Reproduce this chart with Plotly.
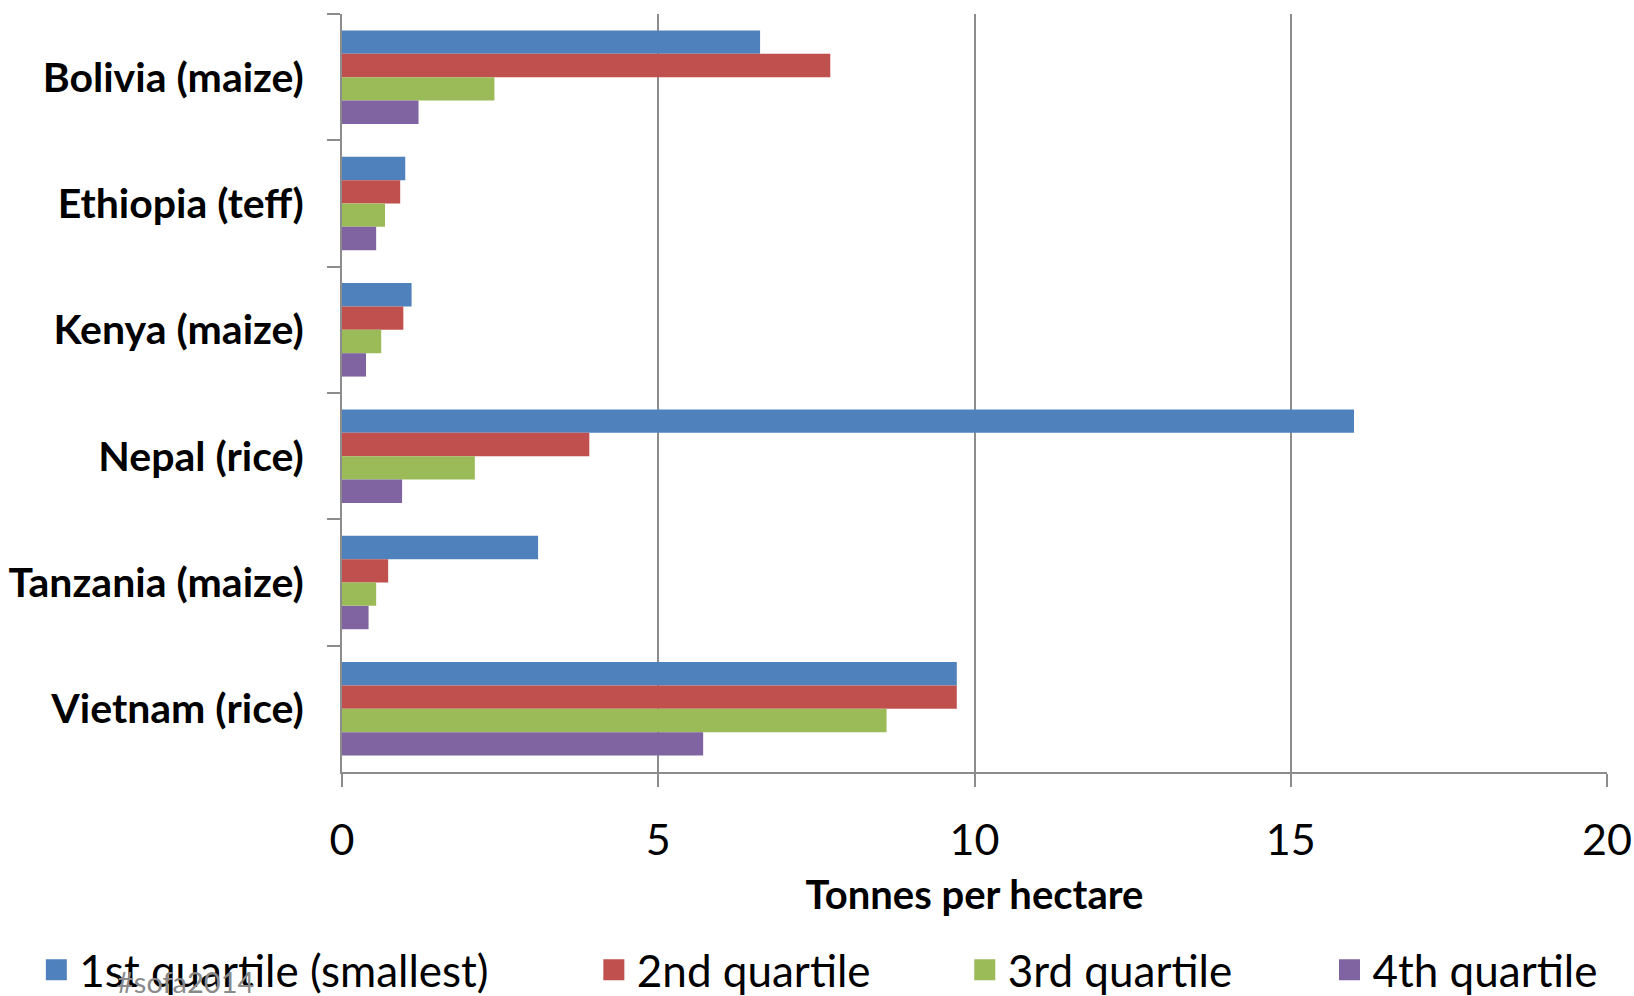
import plotly.graph_objects as go

categories = ["Bolivia (maize)", "Ethiopia (teff)", "Kenya (maize)",
              "Nepal (rice)", "Tanzania (maize)", "Vietnam (rice)"]
series_names = ["1st quartile (smallest)", "2nd quartile", "3rd quartile", "4th quartile"]
q1 = [6.61, 1.00, 1.10, 16.0, 3.10, 9.72]
q2 = [7.72, 0.92, 0.97, 3.91, 0.73, 9.72]
q3 = [2.41, 0.68, 0.62, 2.10, 0.54, 8.61]
q4 = [1.21, 0.54, 0.38, 0.95, 0.42, 5.71]
colors = ["#4F81BD", "#C0504D", "#9BBB59", "#8064A2"]
x_ticks = [0, 5, 10, 15, 20]

FONT = "Lato"
fig = go.Figure()
legend_ids = ["legend", "legend2", "legend3", "legend4"]
for name, vals, col, lg in zip(series_names, [q1, q2, q3, q4], colors, legend_ids):
    fig.add_trace(go.Bar(y=categories, x=vals, orientation="h", name=name,
                         marker=dict(color=col, line=dict(width=0)),
                         showlegend=False))
    fig.add_trace(go.Scatter(x=[None], y=[None], mode="markers", name=name,
                             marker=dict(symbol="square", size=16, color=col,
                                         line=dict(color=col, width=5)),
                             legend=lg, showlegend=True))

legend_x = [0.0204, 0.3616, 0.5886, 0.8118]
leg_common = dict(orientation="h", xref="container", yref="container",
                  yanchor="middle", y=0.026, xanchor="left",
                  font=dict(family=FONT, size=44, color="black"),
                  bgcolor="rgba(0,0,0,0)", itemwidth=36, tracegroupgap=0)
layout_legends = {}
for lg, lx in zip(legend_ids, legend_x):
    layout_legends[lg] = dict(leg_common, x=lx)

fig.update_layout(
    template="none",
    width=1634, height=996,
    margin=dict(l=342, r=27, t=14, b=224, pad=0),
    paper_bgcolor="white", plot_bgcolor="white",
    barmode="group", bargap=0.26, bargroupgap=0,
    font=dict(family=FONT, color="black"),
    xaxis=dict(range=[0, 20], tickvals=x_ticks, ticktext=[str(v) for v in x_ticks],
               automargin=False,
               showgrid=True, gridcolor="#8C8C8C", gridwidth=2,
               showline=True, linecolor="#8C8C8C", linewidth=2,
               ticks="outside", ticklen=13, tickcolor="#8C8C8C", tickwidth=2,
               tickfont=dict(family=FONT, size=43, color="black"),
               ticklabelstandoff=16, zeroline=False,
               title=dict(text="<b>Tonnes per hectare</b>", standoff=18,
                          font=dict(family=FONT, size=40, color="black"))),
    yaxis=dict(autorange="reversed", categoryorder="array", categoryarray=categories,
               automargin=False,
               showline=True, linecolor="#8C8C8C", linewidth=2,
               ticks="outside", ticklen=13, tickcolor="#8C8C8C", tickwidth=2,
               tickson="boundaries", ticklabelstandoff=28,
               tickfont=dict(family=FONT, size=41, color="black", weight="bold"),
               showgrid=False, zeroline=False),
    annotations=[dict(text="#sofa2014", xref="paper", yref="paper",
                      x=-0.1798, y=-0.2765, xanchor="left", yanchor="middle",
                      showarrow=False, font=dict(family=FONT, size=29, color="#8A8A8A"))],
    **layout_legends,
)

fig.write_html("out.html", config={"displayModeBar": False},
               post_script="document.body.style.margin='0';document.body.style.overflow='hidden';")
